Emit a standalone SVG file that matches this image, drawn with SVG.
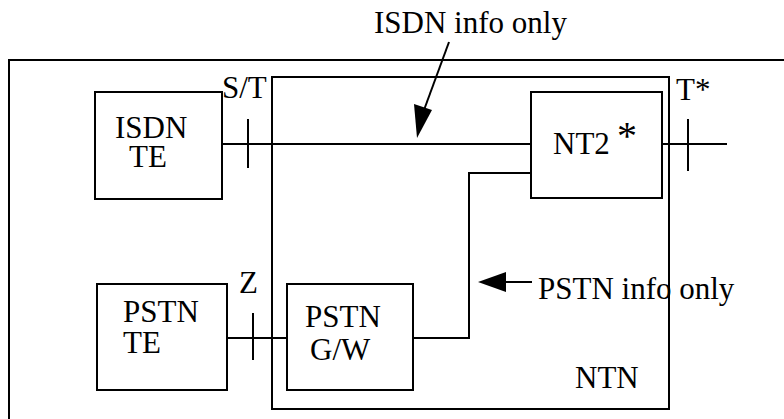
<svg xmlns="http://www.w3.org/2000/svg" width="784" height="419" viewBox="0 0 784 419">
<defs>
<style>
.b{fill:none;stroke:#000;stroke-width:2}
.l{fill:none;stroke:#000;stroke-width:2}
.t{font-family:'Liberation Serif','DejaVu Serif',serif;font-size:31px;fill:#000}
</style>
</defs>
<rect width="784" height="419" fill="#fff"/>
<g id="outer"><rect class="b" x="9" y="60" width="800" height="400"/></g>
<g id="ntn"><rect class="b" x="272" y="77" width="397" height="332"/><text class="t" x="575" y="388">NTN</text></g>
<g id="isdn-te"><rect class="b" x="95" y="92" width="127" height="107"/><text class="t" x="115" y="138">ISDN</text><text class="t" x="129" y="167">TE</text></g>
<g id="nt2"><rect class="b" x="531" y="92" width="131" height="106"/><text class="t" x="553" y="154">NT2</text><text class="t" x="617" y="149" style="font-size:40px">*</text></g>
<g id="pstn-te"><rect class="b" x="97" y="284" width="130" height="106"/><text class="t" x="123" y="322">PSTN</text><text class="t" x="123" y="353">TE</text></g>
<g id="pstn-gw"><rect class="b" x="287" y="284" width="126" height="106"/><text class="t" x="305" y="327">PSTN</text><text class="t" x="310" y="360">G/W</text></g>
<g id="connectors">
<line class="l" x1="222" y1="144" x2="531" y2="144"/>
<line class="l" x1="248" y1="119" x2="248" y2="168"/>
<line class="l" x1="662" y1="144" x2="727" y2="144"/>
<line class="l" x1="688" y1="119" x2="688" y2="171"/>
<polyline class="l" points="531,173 469,173 469,338 413,338"/>
<line class="l" x1="227" y1="338" x2="287" y2="338"/>
<line class="l" x1="253" y1="313" x2="253" y2="360"/>
<path d="M449,42 L424,110" class="l"/>
<path d="M417,138 L414,104 L432,110 z" fill="#000"/>
<line class="l" x1="532" y1="282" x2="500" y2="282"/>
<path d="M478,282 L506,272 L506,292 z" fill="#000"/>
</g>
<g id="labels">
<text class="t" x="374" y="33">ISDN info only</text>
<text class="t" x="538" y="299">PSTN info only</text>
<text class="t" x="222" y="98">S/T</text>
<text class="t" x="239" y="293">Z</text>
<text class="t" x="676" y="100">T*</text>
</g>
</svg>
